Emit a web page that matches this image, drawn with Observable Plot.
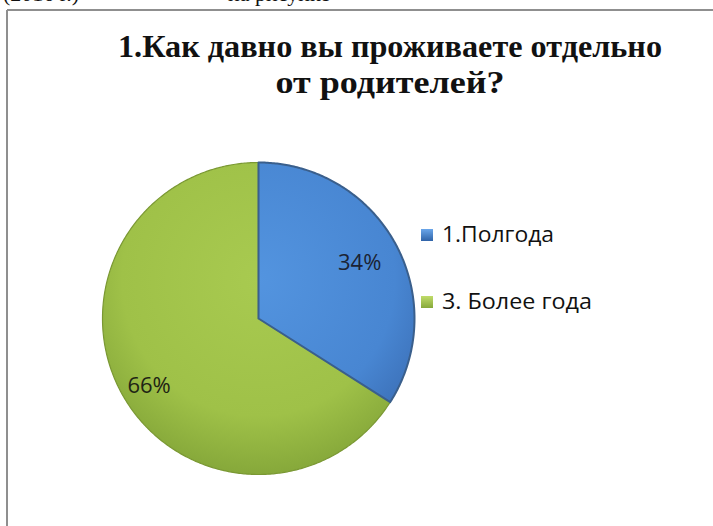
<!DOCTYPE html>
<html>
<head>
<meta charset="utf-8">
<script src="https://cdn.jsdelivr.net/npm/d3@7"></script>
<script src="https://cdn.jsdelivr.net/npm/@observablehq/plot@0.6"></script>
<style>
  html, body { margin: 0; padding: 0; background: #fff; }
  #chart { position: relative; width: 713px; height: 526px; overflow: hidden; }
</style>
</head>
<body>
<div id="chart"></div>
<script>
const categories = ["1.Полгода", "3. Более года"];
const values = [34, 66];
const valueLabels = ["34%", "66%"];
const titleLines = ["1.Как давно вы проживаете отдельно", "от родителей?"];

// slice geometry computed from the data values (unit circle, y up)
const arcs = d3.pie().sort(null).startAngle(0).endAngle(2 * Math.PI)(values);
const slicePoints = arcs.map((a, i) => {
  const pts = [{cat: categories[i], x: 0, y: 0}];
  const n = Math.max(2, Math.ceil((a.endAngle - a.startAngle) / 0.01));
  for (let k = 0; k <= n; k++) {
    const t = a.startAngle + (a.endAngle - a.startAngle) * k / n;
    pts.push({cat: categories[i], x: Math.sin(t), y: Math.cos(t)});
  }
  pts.push({cat: categories[i], x: 0, y: 0});
  return pts;
});
const labelPoints = arcs.map((a, i) => {
  const m = (a.startAngle + a.endAngle) / 2;
  const r = i === 0 ? 0.74 : 0.8;
  return {label: valueLabels[i], x: r * Math.sin(m), y: r * Math.cos(m)};
});

const defs = (index, scales) => {
  const cx = scales.x(0), cy = scales.y(0), r = scales.x(1) - scales.x(0);
  const s = d3.create("svg:defs");
  const mk = (id, c0, c1, c2) => {
    const g = s.append("radialGradient").attr("id", id).attr("gradientUnits", "userSpaceOnUse")
      .attr("cx", cx).attr("cy", cy - r * 0.25).attr("r", r * 1.25);
    g.append("stop").attr("offset", "0").attr("stop-color", c0);
    g.append("stop").attr("offset", "0.7").attr("stop-color", c1);
    g.append("stop").attr("offset", "1").attr("stop-color", c2);
  };
  mk("gBlue", "#5394df", "#4886d2", "#3a6db4");
  mk("gGreen", "#a8ca50", "#9fc148", "#86a83a");
  const f = s.append("filter").attr("id", "shadow").attr("x", "-20%").attr("y", "-20%").attr("width", "140%").attr("height", "140%");
  f.append("feDropShadow").attr("dx", 0).attr("dy", 3).attr("stdDeviation", 3)
    .attr("flood-color", "#000").attr("flood-opacity", 0.35);
  const lg1 = s.append("linearGradient").attr("id", "lBlue").attr("x1", 0).attr("y1", 0).attr("x2", 0).attr("y2", 1);
  lg1.append("stop").attr("offset", 0).attr("stop-color", "#6aa6ea");
  lg1.append("stop").attr("offset", 1).attr("stop-color", "#2f63a8");
  const lg2 = s.append("linearGradient").attr("id", "lGreen").attr("x1", 0).attr("y1", 0).attr("x2", 0).attr("y2", 1);
  lg2.append("stop").attr("offset", 0).attr("stop-color", "#c0dc6a");
  lg2.append("stop").attr("offset", 1).attr("stop-color", "#86a83a");
  return s.node();
};

const plot = Plot.plot({
  width: 713,
  height: 526,
  margin: 0,
  x: {domain: [-1, 1], range: [102, 414], axis: null},
  y: {domain: [-1, 1], range: [474, 162], axis: null},
  style: {background: "white"},
  marks: [
    defs,
    Plot.line(slicePoints[1], {x: "x", y: "y", fill: "url(#gGreen)", stroke: "#7a9833", strokeWidth: 1.2, curve: "linear"}),
    Plot.line(slicePoints[0], {x: "x", y: "y", fill: "url(#gBlue)", stroke: "#3a5f8c", strokeWidth: 2, curve: "linear"}),
    Plot.text(labelPoints.slice(0, 1), {x: "x", y: "y", text: "label", fontSize: 22, fill: "#1b2333",
      fontFamily: "'Open Sans', sans-serif"}),
    Plot.text(labelPoints.slice(1), {x: "x", y: "y", text: "label", fontSize: 22, fill: "#1e2414", dy: 7,
      fontFamily: "'Open Sans', sans-serif"})
  ]
});

document.getElementById("chart").appendChild(plot);

const svg = d3.select(plot);
svg.selectAll("path").filter(function () { const f = this.getAttribute("fill"); return f && f.startsWith("url"); })
  .attr("filter", "url(#shadow)");

// frame border
svg.append("line").attr("x1", 7).attr("y1", 10).attr("x2", 713).attr("y2", 10).attr("stroke", "#8f8f8f").attr("stroke-width", 2);
svg.append("line").attr("x1", 7).attr("y1", 10).attr("x2", 7).attr("y2", 526).attr("stroke", "#8f8f8f").attr("stroke-width", 2);

function addText(parent, x, y, txt, styles, attrs) {
  const t = parent.append("text").attr("x", x).attr("y", y).text(txt);
  Object.entries(styles).forEach(([k, v]) => t.style(k, v));
  Object.entries(attrs || {}).forEach(([k, v]) => t.attr(k, v));
  return t;
}

// cut-off text of the page above
const serif = "'Liberation Serif', 'Times New Roman', serif";
const pageStyle = {"font-family": serif, "font-size": "22px", "fill": "#111", "text-anchor": "start"};
addText(svg, 3, 1, "(2016 г.)", pageStyle);
addText(svg, 228, 1, "на рисунке", pageStyle);

// title
const titleStyle = {"font-family": serif, "font-weight": "bold", "font-size": "31px", "fill": "#111", "text-anchor": "middle"};
addText(svg, 390, 57, titleLines[0], titleStyle, {textLength: 544, lengthAdjust: "spacingAndGlyphs"});
addText(svg, 390, 93, titleLines[1], titleStyle, {textLength: 229, lengthAdjust: "spacingAndGlyphs"});

// legend
const legendStyle = {"font-family": "'Open Sans', sans-serif", "font-size": "21px", "fill": "#111", "text-anchor": "start"};
const legendY = [242, 309];
const legendW = [112, 150];
const legendFill = ["url(#lBlue)", "url(#lGreen)"];
categories.forEach((c, i) => {
  svg.append("rect").attr("x", 421).attr("y", legendY[i] - 13).attr("width", 12).attr("height", 12)
    .attr("fill", legendFill[i]);
  addText(svg, 442, legendY[i], c, legendStyle, {textLength: legendW[i], lengthAdjust: "spacingAndGlyphs"});
});
</script>
</body>
</html>
